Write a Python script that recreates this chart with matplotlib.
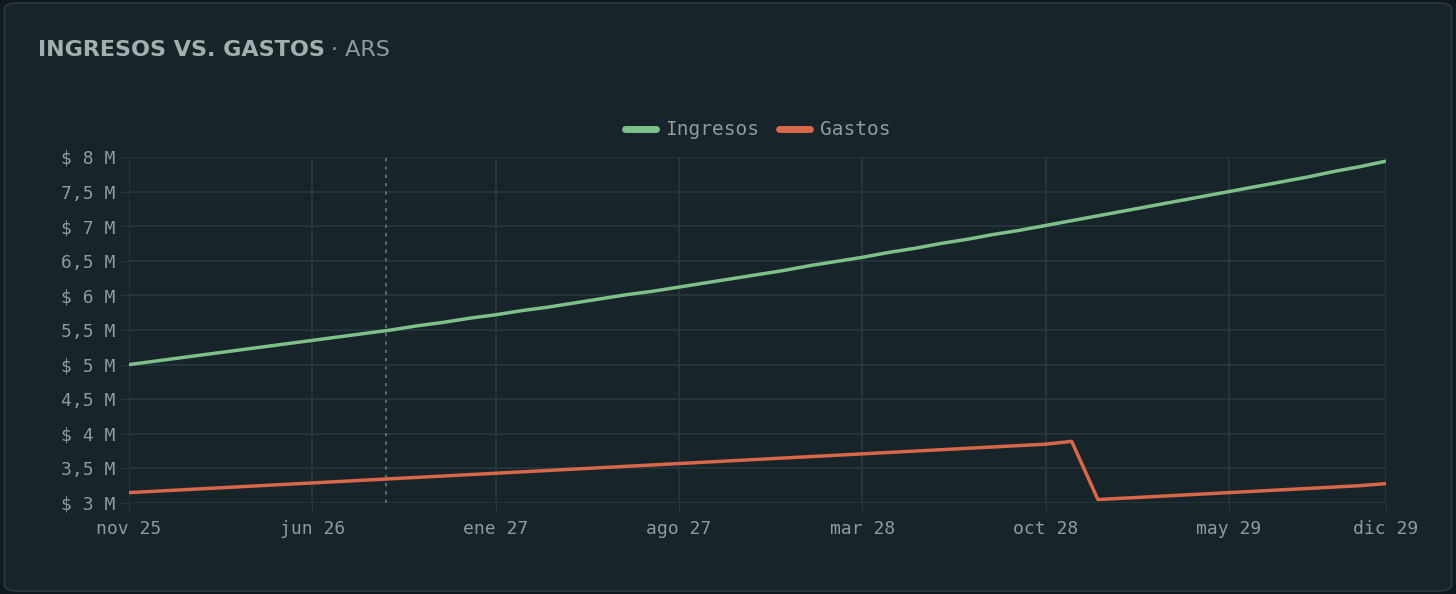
import matplotlib
matplotlib.use("Agg")
import matplotlib.pyplot as plt
from matplotlib.patches import FancyBboxPatch
import numpy as np

months = ["nov 25","dic 25","ene 26","feb 26","mar 26","abr 26","may 26","jun 26","jul 26","ago 26","sep 26","oct 26",
          "nov 26","dic 26","ene 27","feb 27","mar 27","abr 27","may 27","jun 27","jul 27","ago 27","sep 27","oct 27",
          "nov 27","dic 27","ene 28","feb 28","mar 28","abr 28","may 28","jun 28","jul 28","ago 28","sep 28","oct 28",
          "nov 28","dic 28","ene 29","feb 29","mar 29","abr 29","may 29","jun 29","jul 29","ago 29","sep 29","oct 29","nov 29","dic 29"]
months = months[:49]
ingresos = [5.00,5.05,5.10,5.15,5.20,5.25,5.30,5.35,5.40,5.45,5.50,5.56,5.61,5.67,5.72,5.78,5.83,5.89,5.95,6.01,6.06,6.12,
            6.18,6.24,6.30,6.36,6.43,6.49,6.55,6.62,6.68,6.75,6.81,6.88,6.94,7.01,7.08,7.15,7.22,7.29,7.36,7.43,7.50,
            7.57,7.64,7.71,7.79,7.86,7.94]
gastos = [3.15,3.17,3.19,3.21,3.23,3.25,3.27,3.29,3.31,3.33,3.35,3.37,3.39,3.41,3.43,3.45,3.47,3.49,3.51,3.53,3.55,3.57,
          3.59,3.61,3.63,3.65,3.67,3.69,3.71,3.73,3.75,3.77,3.79,3.81,3.83,3.85,3.89,3.05,3.07,3.09,3.11,3.13,3.15,
          3.17,3.19,3.21,3.23,3.25,3.28]
tick_idx = [0,7,14,21,28,35,42,48]
tick_labels = ["nov 25","jun 26","ene 27","ago 27","mar 28","oct 28","may 29","dic 29"]
yticks = [3,3.5,4,4.5,5,5.5,6,6.5,7,7.5,8]
ylabels = ["$ 3 M","3,5 M","$ 4 M","4,5 M","$ 5 M","5,5 M","$ 6 M","6,5 M","$ 7 M","7,5 M","$ 8 M"]
marker_month = 9.8

BG = "#172429"; GRID = "#26383f"; TXT = "#8d9c9c"
fig = plt.figure(figsize=(14.56,5.94), dpi=100, facecolor="#10191d")
card = FancyBboxPatch((0.003,0.005),0.994,0.99, boxstyle="round,pad=0,rounding_size=0.01",
                      transform=fig.transFigure, facecolor=BG, edgecolor="#2b3b41", lw=1.2, zorder=-10)
fig.patches.append(card)
ax = fig.add_axes([0.0886,0.1532,0.8633,0.5825])
ax.set_zorder(1)
ax.patch.set_alpha(0)
x = np.arange(len(ingresos))
ax.plot(x, ingresos, color="#7fc08a", lw=2.5, label="Ingresos", solid_capstyle="round", zorder=3)
ax.plot(x, gastos, color="#d9684a", lw=2.5, label="Gastos", solid_capstyle="round", zorder=3)
ax.axvline(marker_month, color="#6a7878", ls=(0,(2,3)), lw=1.2)
ax.set_xlim(0,48); ax.set_ylim(3,8)
ax.set_xticks(tick_idx); ax.set_xticklabels(tick_labels)
ax.set_yticks(yticks); ax.set_yticklabels(ylabels)
ax.grid(True, color=GRID, lw=1.2)
ax.set_axisbelow(True)
for s in ax.spines.values(): s.set_visible(False)
ax.tick_params(colors=TXT, labelsize=13, length=6, color=GRID)
for t in ax.get_xticklabels()+ax.get_yticklabels(): t.set_fontfamily("DejaVu Sans Mono")
ax.tick_params(axis="x", pad=6)
leg = ax.legend(loc="lower center", bbox_to_anchor=(0.5,1.0), ncol=2, frameon=False,
                labelcolor=TXT, handlelength=1.6, handletextpad=0.5, columnspacing=1.0,
                prop={"family":"DejaVu Sans Mono","size":14})
for h in leg.get_lines(): h.set_linewidth(5)
fig.text(0.026,0.905,"INGRESOS VS. GASTOS", color="#a2b0ae", fontsize=16, fontweight="bold", family="DejaVu Sans")
fig.text(0.227,0.905,"· ARS", color="#8d9c9c", fontsize=16, family="DejaVu Sans")
fig.savefig("out.png", dpi=100, facecolor=fig.get_facecolor())
